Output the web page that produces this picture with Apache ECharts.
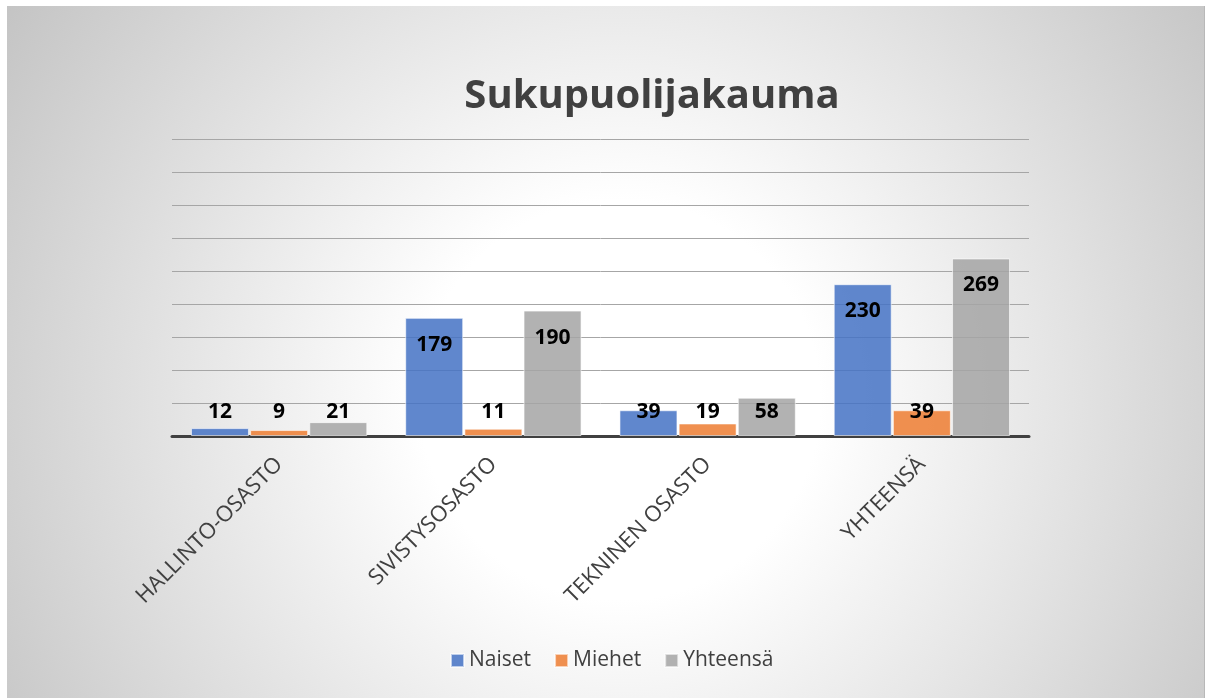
<!DOCTYPE html>
<html>
<head>
<meta charset="utf-8">
<script src="https://cdn.jsdelivr.net/npm/echarts@6/dist/echarts.min.js"></script>
<style>
html,body{margin:0;padding:0;background:#fff;width:1206px;height:698px;overflow:hidden;}
#bg{position:absolute;left:7px;top:6px;width:1197px;height:692px;border-right:1px solid #b8b8b8;
background:radial-gradient(circle 730px at 613px 394px,#ffffff 0px,#ffffff 200px,#c4c4c4 730px);}
#main{position:absolute;left:0;top:0;width:1206px;height:698px;}
</style>
</head>
<body>
<div id="bg"></div>
<div id="main"></div>
<script>
const categories = ['HALLINTO-OSASTO', 'SIVISTYSOSASTO', 'TEKNINEN OSASTO', 'YHTEENSÄ'];
const seriesNames = ['Naiset', 'Miehet', 'Yhteensä'];
const naiset = [12, 179, 39, 230];
const miehet = [9, 11, 19, 39];
const yhteensa = [21, 190, 58, 269];
const yTicks = [0, 50, 100, 150, 200, 250, 300, 350, 400, 450];

const colors = ['rgba(68,114,196,0.85)', 'rgba(237,125,49,0.85)', 'rgba(165,165,165,0.85)'];
const values = [naiset, miehet, yhteensa];

const chart = echarts.init(document.getElementById('main'), null, {renderer: 'canvas'});

function buildSeries(pxPerUnit) {
  return values.map((vals, i) => ({
    name: seriesNames[i],
    type: 'bar',
    barWidth: 58,
    barGap: '2%',
    itemStyle: {color: colors[i], borderColor: 'rgba(255,255,255,0.6)', borderWidth: 1},
    data: vals.map(v => {
      const h = v * pxPerUnit;
      const off = Math.min(27, h - 24);
      return {
        value: v,
        label: {
          show: true,
          position: ['50%', off],
          align: 'center',
          verticalAlign: 'middle',
          color: '#000',
          fontFamily: 'Open Sans',
          fontWeight: 'bold',
          fontSize: 21
        }
      };
    })
  }));
}

const option = {
  animation: false,
  backgroundColor: 'transparent',
  title: {
    text: 'Sukupuolijakauma',
    left: 647,
    textAlign: 'center',
    top: 72,
    textStyle: {fontFamily: 'Open Sans', fontWeight: 'bold', fontSize: 40, color: '#404040'}
  },
  legend: {
    data: seriesNames,
    left: 450,
    top: 650,
    padding: 0,
    itemWidth: 13,
    itemHeight: 13,
    itemGap: 23,
    icon: 'rect',
    textStyle: {fontFamily: 'Open Sans', fontSize: 21, color: '#404040'}
  },
  grid: {left: 172, right: 177, top: 139, bottom: 262, containLabel: false},
  xAxis: {
    type: 'category',
    data: categories,
    axisLine: {lineStyle: {color: '#404040', width: 3}},
    axisTick: {show: false},
    axisLabel: {rotate: 45, margin: 25, fontFamily: 'Open Sans', fontSize: 22, color: '#404040'}
  },
  yAxis: {
    type: 'value',
    min: yTicks[0],
    max: yTicks[yTicks.length - 1],
    interval: yTicks[1] - yTicks[0],
    axisLabel: {show: false},
    axisLine: {show: false},
    axisTick: {show: false},
    splitLine: {lineStyle: {color: '#a6a6a6', width: 1}}
  },
  series: buildSeries(0.66)
};
chart.setOption(option);
const p0 = chart.convertToPixel({yAxisIndex: 0}, 0);
const p1 = chart.convertToPixel({yAxisIndex: 0}, 100);
const ppu = (p0 - p1) / 100;
chart.setOption({series: buildSeries(ppu)});
</script>
</body>
</html>
